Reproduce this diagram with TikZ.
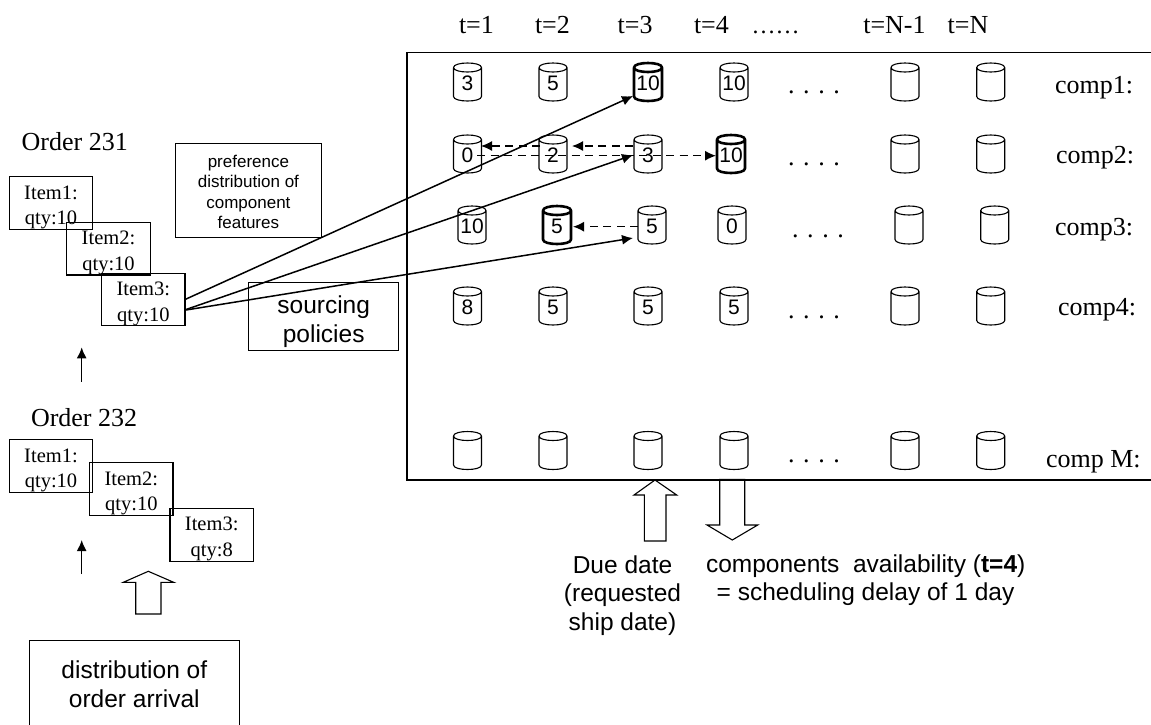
\documentclass[tikz,border=0pt]{standalone}
\usepackage{fontspec}
\setmainfont{Liberation Serif}
\newfontfamily\arialf{Liberation Sans}
\usetikzlibrary{arrows.meta,calc}
\tikzset{
  x=1pt,y=-1pt,
  serif/.style={font=\fontsize{26}{30}\selectfont,inner sep=0pt,outer sep=0pt,anchor=base west},
  dotrow/.style={serif},
  cylnode/.style={minimum width=28pt,minimum height=38pt,inner sep=0pt,outer sep=0pt,
     text height=17pt,text depth=0pt,font=\arialf\fontsize{21}{24}\selectfont},
  cylline/.style={draw=black,line width=1.1pt,line join=round},
  cylbold/.style={line width=2.6pt},
  itembox/.style={draw=black,line width=1.1pt,minimum width=83.4pt,minimum height=52.6pt,inner sep=0pt,outer sep=0pt,
     align=center,font=\fontsize{20.5}{25.5}\selectfont},
  txtbox/.style={draw=black,line width=1.1pt,inner sep=0pt,outer sep=0pt,align=center},
  sans/.style={inner sep=0pt,outer sep=0pt,font=\arialf\fontsize{24.5}{28.5}\selectfont},
  solidarrow/.style={-{Latex[length=11pt,width=10pt]},line width=1.5pt,black},
  dasharrow/.style={-{Latex[length=11pt,width=10pt]},line width=1.3pt,black,dash pattern=on 8pt off 5.5pt},
  blockarrow/.style={draw=black,line width=1.1pt,line join=miter},
  frameline/.style={draw=black,line width=1.3pt}
}
% barrel: [outline options]{name}{position}{text}
\newcommand{\barrel}[4][]{%
  \node[cylnode] (#2) at (#3) {#4};
  \draw[cylline,#1]
    ($(#2.north west)+(0,4.5)$) -- ($(#2.south west)+(0,-4.5)$)
    .. controls ($(#2.south west)+(0,1.5)$) and ($(#2.south east)+(0,1.5)$) .. ($(#2.south east)+(0,-4.5)$)
    -- ($(#2.north east)+(0,4.5)$)
    .. controls ($(#2.north east)+(0,-1.5)$) and ($(#2.north west)+(0,-1.5)$) .. ($(#2.north west)+(0,4.5)$)
    .. controls ($(#2.north west)+(0,10.5)$) and ($(#2.north east)+(0,10.5)$) .. ($(#2.north east)+(0,4.5)$);
}
\newcommand{\itemtext}[2]{\rule{0pt}{22pt}#1\\#2}
\begin{document}
\begin{tikzpicture}
\useasboundingbox (0,0) rectangle (1151,724);
% frame
\draw[frameline] (1151,52.5) -- (407,52.5) -- (407,480) -- (1151,480);
% time labels
\node[serif] (t1) at (459,33) {t=1};
\node[serif] (t2) at (535,33) {t=2};
\node[serif] (t3) at (617.7,33) {t=3};
\node[serif] (t4) at (694,33) {t=4};
\node[serif,font=\fontsize{24}{28}\selectfont] (tdots) at (751.7,33) {……};
\node[serif] (tn1) at (863.3,33) {t=N-1};
\node[serif] (tn) at (947.7,33) {t=N};
% component labels
\node[serif] (l1) at (1055,93) {comp1:};
\node[serif] (l2) at (1056,163) {comp2:};
\node[serif] (l3) at (1055,235) {comp3:};
\node[serif] (l4) at (1058,315) {comp4:};
\node[serif] (lm) at (1046,467) {comp M:};
% row 1
\barrel{c11}{467.5,82}{3}
\barrel{c12}{553,82}{5}
\barrel[cylbold]{c13}{648,82}{10}
\barrel{c14}{734,82}{10}
\barrel{c15}{905,82}{}
\barrel{c16}{990.7,82}{}
% row 2
\barrel{c21}{467.5,154}{0}
\barrel{c22}{553,154}{2}
\barrel{c23}{648,154}{3}
\barrel[cylbold]{c24}{731,154}{10}
\barrel{c25}{905,154}{}
\barrel{c26}{990.7,154}{}
% row 3
\barrel{c31}{472,225}{10}
\barrel[cylbold]{c32}{557,225}{5}
\barrel{c33}{652,225}{5}
\barrel{c34}{732,225}{0}
\barrel{c35}{909,225}{}
\barrel{c36}{994.7,225}{}
% row 4
\barrel{c41}{467.5,306}{8}
\barrel{c42}{553,306}{5}
\barrel{c43}{648,306}{5}
\barrel{c44}{734,306}{5}
\barrel{c45}{905,306}{}
\barrel{c46}{990.7,306}{}
% row M
\barrel{cm1}{467.5,450.5}{}
\barrel{cm2}{553,450.5}{}
\barrel{cm3}{648,450.5}{}
\barrel{cm4}{734,450.5}{}
\barrel{cm5}{905,450.5}{}
\barrel{cm6}{990.7,450.5}{}
% dotted gaps
\node[dotrow] (d1) at (788,93) {. . . .};
\node[dotrow] (d2) at (788,165) {. . . .};
\node[dotrow] (d3) at (792,237) {. . . .};
\node[dotrow] (d4) at (788,318) {. . . .};
\node[dotrow] (dm) at (788,462) {. . . .};
% order 231
\node[serif] (o1) at (21.7,150.7) {Order 231};
\node[itembox] (a1) at (51,203) {\itemtext{Item1:}{qty:10}};
\node[itembox] (a2) at (108.5,248.7) {\itemtext{Item2:}{qty:10}};
\node[itembox] (a3) at (143.3,299.5) {\itemtext{Item3:}{qty:10}};
\coordinate (arrow1b) at (81.7,381.7);
\coordinate (arrow1t) at (81.7,347.3);
\draw[solidarrow] (arrow1b) -- (arrow1t);
% order 232
\node[serif] (o2) at (31,426) {Order 232};
\node[itembox] (b1) at (51,466.2) {\itemtext{Item1:}{qty:10}};
\node[itembox] (b2) at (131.3,489) {\itemtext{Item2:}{qty:10}};
\node[itembox] (b3) at (211.7,534.8) {\itemtext{Item3:}{qty:8}};
\coordinate (arrow2b) at (81.7,574);
\coordinate (arrow2t) at (81.7,540);
\draw[solidarrow] (arrow2b) -- (arrow2t);
% boxes
\node[txtbox,minimum width=145.3pt,minimum height=93.3pt,font=\arialf\fontsize{17}{20.5}\selectfont] (pref) at (248.4,190.4)
  {\rule{0pt}{15pt}preference\\distribution of\\component\\features};
\node[txtbox,minimum width=150pt,minimum height=68pt,font=\arialf\fontsize{24.5}{28.5}\selectfont] (src) at (323.7,316.3)
  {\rule{0pt}{28pt}sourcing\\policies};
\node[txtbox,minimum width=210pt,minimum height=86.6pt,font=\arialf\fontsize{24.5}{28.5}\selectfont] (dist) at (134.3,684)
  {distribution of\\order arrival};
% block arrows
\draw[blockarrow] (148.3,571.3) -- (173.7,582.3) -- (161,582.3) -- (161,614) -- (135.7,614) -- (135.7,582.3) -- (123.3,582.3) -- cycle;
\draw[blockarrow] (655,480) -- (676.7,495) -- (666,495) -- (666,541) -- (644.3,541) -- (644.3,495) -- (634,495) -- cycle;
\draw[blockarrow] (719.7,479.3) -- (744.7,479.3) -- (744.7,525) -- (757.7,525) -- (732.3,540) -- (707,525) -- (719.7,525) -- cycle;
% captions
\node[sans,align=center] (due) at (622.5,595.5) {Due date\\(requested\\ship date)};
\node[sans,anchor=base west] (comps) at (706,572) {components\ \ availability (\textbf{t=4})};
\node[sans,anchor=base west] (delay) at (716.7,600) {= scheduling delay of 1 day};
% sourcing connectors
\draw[solidarrow] (a3.east) -- ($(c13)+(-15,14)$);
\draw[solidarrow] ($(a3.east)+(1,10)$) -- ($(c23)+(-15,1)$);
\draw[solidarrow] ($(a3.east)+(1,10.5)$) -- ($(c33)+(-19,13)$);
% search connectors
\draw[dasharrow] ($(c23)+(-15,-8)$) -- ($(c22)+(19,-8)$);
\draw[dasharrow] ($(c22)+(-13,-8)$) -- ($(c21)+(13.5,-8)$);
\draw[dasharrow] ($(c21)+(9.5,1.7)$) -- ($(c24)+(-15,1.7)$);
\draw[dasharrow] ($(c33)+(-14,1.7)$) -- ($(c32)+(16,1.7)$);
\end{tikzpicture}
\end{document}
